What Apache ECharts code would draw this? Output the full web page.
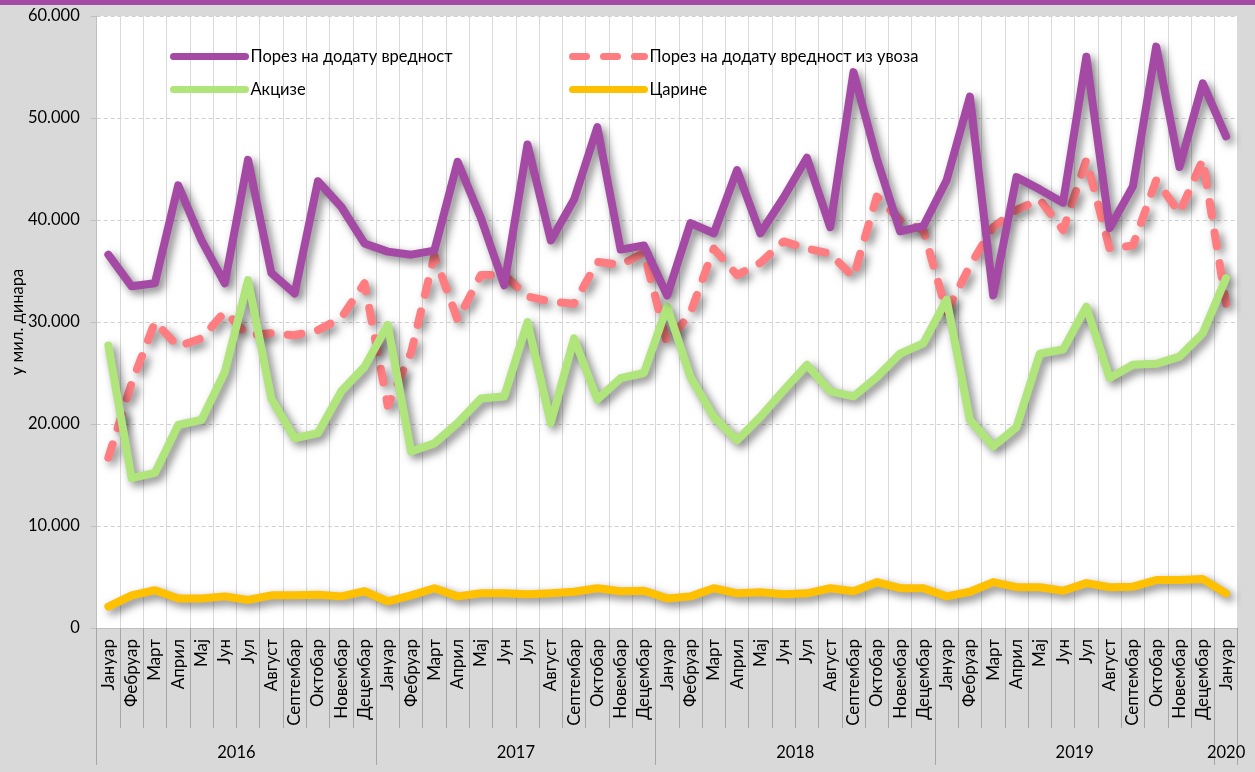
<!DOCTYPE html>
<html>
<head>
<meta charset="utf-8">
<script src="https://cdn.jsdelivr.net/npm/echarts@6/dist/echarts.min.js"></script>
<style>
html,body{margin:0;padding:0;background:#d9d9d9;}
#chart{width:1255px;height:772px;}
</style>
</head>
<body>
<div id="chart"></div>
<script>
// ---- data ----
const monthNames = ['Јануар','Фебруар','Март','Април','Мај','Јун','Јул','Август','Септембар','Октобар','Новембар','Децембар'];
const years = ['2016','2017','2018','2019','2020'];
const monthsPerYear = [12,12,12,12,1];

const seriesNames = ['Порез на додату вредност','Порез на додату вредност из увоза','Акцизе','Царине'];

const pdv = [36600,33500,33800,43400,38000,33800,45900,34800,32800,43800,41300,37700,
             36900,36600,37000,45700,40200,33600,47400,38000,42000,49100,37100,37500,
             32600,39700,38700,44900,38700,42200,46100,39300,54500,46000,38900,39400,
             43900,52100,32600,44200,43000,41700,56000,39200,43300,57000,45200,53400,
             48200];
const pdvUvoz = [16700,24000,30000,27600,28400,31000,28700,28900,28700,29200,30400,33800,
                 21800,27000,36500,30200,34600,34600,32500,32000,31800,35900,35600,36800,
                 27900,30900,37200,34600,35800,37900,37200,36700,34400,42300,40000,39000,
                 31000,35500,39300,41000,42000,39000,45900,37200,37500,43900,40700,45900,
                 31800];
const akcize = [27700,14700,15200,19900,20400,25100,34100,22500,18600,19100,23200,25600,
                29700,17300,18100,20100,22500,22700,30000,20100,28400,22400,24500,25000,
                31500,24600,20700,18400,20700,23300,25800,23200,22700,24600,26900,27900,
                32200,20400,17800,19700,26900,27300,31500,24500,25800,25900,26600,28900,
                34300];
const carine = [2100,3200,3700,2900,2900,3100,2750,3200,3200,3250,3100,3600,
                2600,3200,3900,3100,3400,3400,3300,3400,3550,3900,3600,3650,
                2900,3100,3900,3400,3500,3300,3400,3900,3600,4500,3900,3900,
                3100,3550,4500,4000,4000,3650,4400,4000,4050,4700,4700,4800,
                3400];
const yTicks = [0,10000,20000,30000,40000,50000,60000];

// ---- derived ----
const categories = [];
const yearBounds = [0];
const yearCenters = [];
monthsPerYear.forEach((n, yi) => {
  const start = categories.length;
  for (let m = 0; m < n; m++) categories.push(monthNames[m]);
  yearBounds.push(categories.length);
  yearCenters.push((start + categories.length) / 2);
});
const total = categories.length;

const FONT = 'Lato';
const fmt = v => v === 0 ? '0' : String(v).replace(/\B(?=(\d{3})+(?!\d))/g, '.');

const colors = ['#a44aa4','#ff7c80','#b0e57c','#ffc000'];
const shadow = {shadowColor:'rgba(0,0,0,0.5)', shadowBlur:8, shadowOffsetX:4, shadowOffsetY:4};

function mkSeries(i, data, z, dashed) {
  return {
    name: seriesNames[i], type:'line', data, symbol:'none', z,
    lineStyle: Object.assign({color:colors[i], width:8, cap:'round', join:'round',
      type: dashed ? [14,17] : 'solid'}, shadow),
    itemStyle:{color:colors[i]},
    emphasis:{disabled:true}, animation:false
  };
}

function mkLegend(i, left, top) {
  return {
    data:[seriesNames[i]], left, top, padding:0, itemWidth:72, itemHeight:14, itemGap:0,
    textStyle:{fontFamily:FONT, fontSize:16.5, color:'#000'},
    lineStyle:{width:7, cap:'round', shadowBlur:0, shadowColor:'transparent', shadowOffsetX:0, shadowOffsetY:0},
    itemStyle:{opacity:0, borderWidth:0, shadowBlur:0, shadowColor:'transparent'},
    selectedMode:false
  };
}

const chart = echarts.init(document.getElementById('chart'), null, {renderer:'canvas'});
chart.setOption({
  backgroundColor:'#d9d9d9',
  animation:false,
  graphic:[{type:'rect', left:0, top:0, shape:{width:1255, height:5}, style:{fill:'#a44aa4'}, silent:true}],
  grid:{left:96.7, right:17.3, top:16, bottom:144, show:true, backgroundColor:'#ffffff', borderWidth:0,
        containLabel:false, outerBoundsMode:'none'},
  legend:[mkLegend(0,170,48), mkLegend(2,170,81), mkLegend(1,569,48), mkLegend(3,569,81)],
  xAxis:[{
    type:'category', data:categories, boundaryGap:true, position:'bottom',
    axisLine:{show:true, lineStyle:{color:'#bfbfbf', width:1}},
    axisTick:{show:true, length:100, lineStyle:{color:'#a6a6a6', width:1}},
    splitLine:{show:true, lineStyle:{color:'#d9d9d9', width:1}},
    axisLabel:{rotate:90, margin:11, fontFamily:FONT, fontSize:17, color:'#000', interval:0}
  },{
    type:'value', min:0, max:total, position:'bottom',
    axisLine:{show:false},
    splitLine:{show:false},
    axisTick:{show:true, customValues:yearBounds, length:137, lineStyle:{color:'#a6a6a6', width:1}},
    axisLabel:{show:true, customValues:yearCenters, margin:116, fontFamily:FONT, fontSize:16.5, color:'#000',
      formatter: v => { const k = yearCenters.indexOf(v); return k >= 0 ? years[k] : ''; }}
  }],
  yAxis:{
    type:'value', min:yTicks[0], max:yTicks[yTicks.length-1], interval:yTicks[1]-yTicks[0],
    name:'у мил. динара', nameLocation:'middle', nameGap:71, nameRotate:90, nameMoveOverlap:false,
    nameTextStyle:{fontFamily:FONT, fontSize:16.5, color:'#000'},
    axisLine:{show:true, lineStyle:{color:'#bfbfbf'}},
    axisTick:{show:true, length:6, lineStyle:{color:'#bfbfbf'}},
    splitLine:{show:true, lineStyle:{color:'#d0d0d0', type:[4,3], width:1}},
    axisLabel:{fontFamily:FONT, fontSize:16.5, color:'#000', margin:17, formatter:fmt}
  },
  series:[
    mkSeries(1, pdvUvoz, 2, true),
    mkSeries(3, carine, 1, false),
    mkSeries(2, akcize, 3, false),
    mkSeries(0, pdv, 4, false)
  ]
});
</script>
</body>
</html>
